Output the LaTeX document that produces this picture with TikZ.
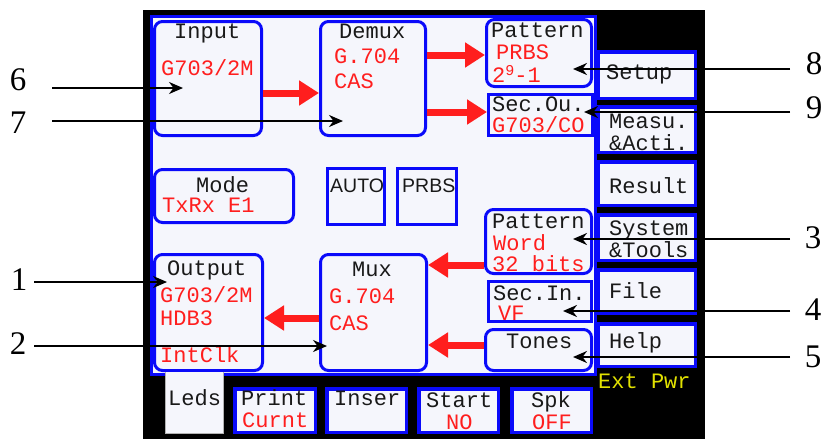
\documentclass[tikz,border=0pt]{standalone}
\usepackage{fontspec}
\setmainfont{Liberation Serif}
\newfontfamily\monoscr{Liberation Mono}
\newfontfamily\uisans{Liberation Sans}
\usetikzlibrary{arrows.meta}

\definecolor{panel}{RGB}{245,246,252}
\definecolor{scrblue}{RGB}{10,10,250}
\definecolor{scrred}{RGB}{255,30,30}
\definecolor{scryellow}{RGB}{225,225,0}
\definecolor{scrink}{RGB}{25,25,25}

\begin{document}
\begin{tikzpicture}[x=1pt,y=-1pt,
  rbox/.style={draw=scrblue, line width=3pt, fill=panel, rounded corners=8pt, inner sep=0pt},
  sbox/.style={draw=scrblue, line width=3pt, fill=panel, inner sep=0pt},
  keybox/.style={draw=scrblue, line width=3.5pt, fill=panel, inner sep=0pt},
  txt/.style={font=\monoscr\fontsize{22}{24}\selectfont, text=scrink, anchor=base west, inner sep=0pt},
  rtxt/.style={txt, text=scrred},
  stxt/.style={font=\uisans\fontsize{19.5}{22}\selectfont, text=scrink, anchor=base west, inner sep=0pt},
  callnum/.style={font=\fontsize{33}{36}\selectfont, inner sep=0pt},
  callout/.style={line width=2pt, -{Stealth[length=14pt,width=12pt]}},
  redarr/.style={draw=scrred, line width=7pt, -{Triangle[length=20pt,width=24pt]}}]

\useasboundingbox (0,0) rectangle (825,439);

% instrument frame and screen panel
\fill[black] (143,10) rectangle (705,439);
\path[draw=scrblue, line width=3pt, fill=panel] (151.5,16.5) rectangle (595.5,374.5);

% function blocks
\node[rbox, minimum width=107pt, minimum height=114pt] (input)  at (208,78.5) {};
\node[rbox, minimum width=105pt, minimum height=114pt] (demux)  at (373,78.5) {};
\node[rbox, minimum width=105pt, minimum height=67pt]  (patt)   at (539,53) {};
\node[sbox, minimum width=104pt, minimum height=41pt]  (secou)  at (540.5,115) {};
\node[rbox, minimum width=139pt, minimum height=53pt]  (mode)   at (224,196) {};
\node[sbox, minimum width=57pt,  minimum height=56pt]  (auto)   at (356,196.5) {};
\node[sbox, minimum width=59pt,  minimum height=56pt]  (prbs)   at (427,196.5) {};
\node[rbox, minimum width=108pt, minimum height=116pt] (output) at (208.5,312.5) {};
\node[rbox, minimum width=106pt, minimum height=116pt] (mux)    at (373.5,312.5) {};
\node[rbox, minimum width=106pt, minimum height=64pt]  (pattb)  at (538.5,241.5) {};
\node[sbox, minimum width=103pt, minimum height=40pt]  (secin)  at (540,301.5) {};
\node[rbox, minimum width=106pt, minimum height=41pt]  (tones)  at (538.5,350) {};

% soft keys on the right
\node[keybox, minimum width=97.5pt, minimum height=46.5pt] (setup)  at (646.5,75) {};
\node[keybox, minimum width=97.5pt, minimum height=45.5pt] (measu)  at (646.5,129.5) {};
\node[keybox, minimum width=97.5pt, minimum height=43.5pt] (result) at (646.5,183.5) {};
\node[keybox, minimum width=97.5pt, minimum height=45.5pt] (systl)  at (646.5,237.5) {};
\node[keybox, minimum width=97.5pt, minimum height=43.5pt] (file)   at (646.5,291.5) {};
\node[keybox, minimum width=97.5pt, minimum height=42.5pt] (help)   at (646.5,345) {};

% soft keys at the bottom
\node[fill=panel, minimum width=58pt, minimum height=61pt, inner sep=0pt, outer sep=0pt] (ledstab) at (194,402.5) {};
\draw[gray!60, line width=0.8pt] (ledstab.north west) |- (ledstab.south east) -- (ledstab.north east);
\node[keybox, minimum width=80.5pt, minimum height=43.5pt] (print) at (275,410.5) {};
\node[keybox, minimum width=79.5pt, minimum height=43.5pt] (inser) at (366.5,410.5) {};
\node[keybox, minimum width=79.5pt, minimum height=43.5pt] (start) at (458.5,410.5) {};
\node[keybox, minimum width=79.5pt, minimum height=43.5pt] (spk)   at (551.5,410.5) {};

% block texts
\node[txt]  (tinput) at (174,38) {Input};
\node[rtxt] (tin1)   at (161,75) {G703/2M};
\node[txt]  (tdemux) at (339,38) {Demux};
\node[rtxt] (tdm1)   at (334,63) {G.704};
\node[rtxt] (tdm2)   at (334,88) {CAS};
\node[txt]  (tpatt)  at (491,37) {Pattern};
\node[rtxt] (tpt1)   at (496,59) {PRBS};
\node[rtxt] (tpt2)   at (492,82) {2\raisebox{7pt}{\fontsize{15}{15}\selectfont 9}-1};
\node[txt]  (tsecou) at (492,111) {Sec.Ou.};
\node[rtxt] (tso1)   at (492,132) {G703/CO};
\node[txt]  (tmode)  at (196,192) {Mode};
\node[rtxt] (tmd1)   at (162,212) {TxRx E1};
\node[stxt] (tauto)  at (330,192) {AUTO};
\node[stxt] (tprbs)  at (402,192) {PRBS};
\node[txt]  (toutp)  at (167,275) {Output};
\node[rtxt] (tou1)   at (160,302) {G703/2M};
\node[rtxt] (tou2)   at (160,325) {HDB3};
\node[rtxt] (tou3)   at (160,362) {IntClk};
\node[txt]  (tmux)   at (352,276) {Mux};
\node[rtxt] (tmx1)   at (329,303) {G.704};
\node[rtxt] (tmx2)   at (329,330) {CAS};
\node[txt]  (tpattb) at (492,228) {Pattern};
\node[rtxt] (tpb1)   at (493,250) {Word};
\node[rtxt] (tpb2)   at (492,271) {32 bits};
\node[txt]  (tsecin) at (493,300) {Sec.In.};
\node[rtxt] (tsi1)   at (498,320) {VF};
\node[txt]  (ttones) at (506,348) {Tones};

% key texts
\node[txt] (ksetup) at (606,79) {Setup};
\node[txt] (kmea1)  at (609,128) {Measu.};
\node[txt] (kmea2)  at (609,150) {\&Acti.};
\node[txt] (kres)   at (609,193) {Result};
\node[txt] (ksys1)  at (609,235) {System};
\node[txt] (ksys2)  at (609,257) {\&Tools};
\node[txt] (kfile)  at (609,298) {File};
\node[txt] (khelp)  at (609,348) {Help};
\node[txt, text=scryellow] (kpwr) at (598,388) {Ext Pwr};
\node[txt]  (kleds)  at (168,405) {Leds};
\node[txt]  (kprt1)  at (241,405) {Print};
\node[rtxt] (kprt2)  at (242,427) {Curnt};
\node[txt]  (kins)   at (334,405) {Inser};
\node[txt]  (kst1)   at (426,407) {Start};
\node[rtxt] (kst2)   at (446,429) {NO};
\node[txt]  (kspk1)  at (531,407) {Spk};
\node[rtxt] (kspk2)  at (532,429) {OFF};

% signal flow
\coordinate (s1) at ([yshift=-14.5pt]input.east);
\coordinate (s2) at ([yshift=23.5pt]demux.east);
\coordinate (s3) at ([yshift=-33.5pt]demux.east);
\coordinate (s4) at ([yshift=-23.5pt]pattb.west);
\coordinate (s5) at ([yshift=5pt]tones.west);
\coordinate (s6) at ([yshift=-5.5pt]mux.west);
\draw[redarr] (s1) -- (s1 -| demux.west);
\draw[redarr] (s2) -- (s2 -| patt.west);
\draw[redarr] (s3) -- (s3 -| secou.west);
\draw[redarr] (s4) -- (s4 -| mux.east);
\draw[redarr] (s5) -- (s5 -| mux.east);
\draw[redarr] (s6) -- (s6 -| output.east);

% numbered callouts
\node[callnum] (n6) at (18,80)  {6};
\node[callnum] (n7) at (18,123) {7};
\node[callnum] (n1) at (19,280) {1};
\node[callnum] (n2) at (18,344) {2};
\node[callnum] (n8) at (814,64)  {8};
\node[callnum] (n9) at (814,108) {9};
\node[callnum] (n3) at (813,238) {3};
\node[callnum] (n4) at (813,310) {4};
\node[callnum] (n5) at (813,357) {5};

\coordinate (f6) at (52,88);
\coordinate (f7) at (52,121);
\coordinate (f1) at (34,282);
\coordinate (f2) at (34,346);
\coordinate (f8) at (790,69);
\coordinate (f9) at (790,112);
\coordinate (f3) at (790,239);
\coordinate (f4) at (790,311);
\coordinate (f5) at (790,357);

\draw[callout] (f6) -- ([shift={(-25pt,-9.5pt)}]input.center);
\draw[callout] (f7) -- ([shift={(-30pt,-42.5pt)}]demux.center);
\draw[callout] (f1) -- ([shift={(-41.5pt,30.5pt)}]output.center);
\draw[callout] (f2) -- ([shift={(-46.5pt,-33.5pt)}]mux.center);
\draw[callout] (f8) -- ([shift={(34pt,-16pt)}]patt.center);
\draw[callout] (f9) -- ([shift={(43.5pt,3pt)}]secou.center);
\draw[callout] (f3) -- ([shift={(34.5pt,2.5pt)}]pattb.center);
\draw[callout] (f4) -- ([shift={(23pt,-9.5pt)}]secin.center);
\draw[callout] (f5) -- ([shift={(34.5pt,-7pt)}]tones.center);

\end{tikzpicture}
\end{document}
